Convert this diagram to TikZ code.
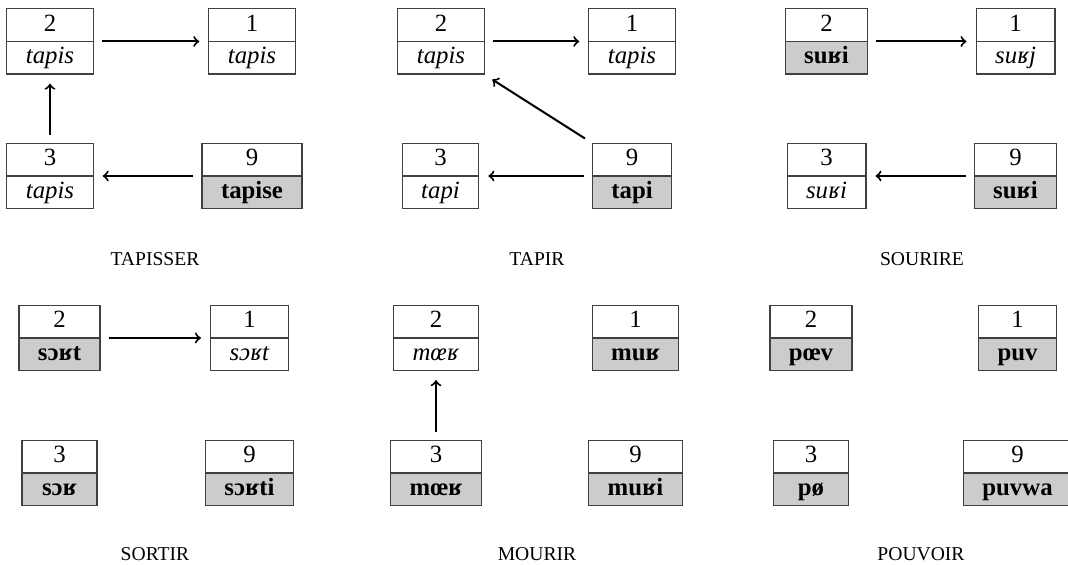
\documentclass[tikz,border=0pt]{standalone}
\usepackage{fontspec}
\setmainfont{Liberation Serif}
\usetikzlibrary{shapes.multipart}
\begin{document}
\begin{tikzpicture}
  [x=0.5pt,y=-0.5pt,
  every node/.style={font=\fontsize{12.4}{15}\selectfont},
  cell/.style={draw=black!75,line width=0.6pt,rectangle split,rectangle split parts=2,
    rectangle split part fill={white,white},inner xsep=9.5pt,inner ysep=0.35pt,
    minimum width=37.5pt},
  filled/.style={cell,rectangle split part fill={white,gray!40}},
  verb/.style={font=\fontsize{9.8}{12}\selectfont},
  arr/.style={->,line width=1pt,shorten >=4.5pt,shorten <=4pt}]
  \useasboundingbox (0,0) rectangle (1068,565);
  % TAPISSER
  \node[cell] (tps2) at (50,41.5) {\strut 2\nodepart{two}\strut\textit{tapis}};
  \node[cell] (tps1) at (252,41.5) {\strut 1\nodepart{two}\strut\textit{tapis}};
  \node[cell] (tps3) at (50,176) {\strut 3\nodepart{two}\strut\textit{tapis}};
  \node[filled] (tps9) at (252,176) {\strut 9\nodepart{two}\strut\textbf{tapise}};
  \node[verb] (tpslabel) at (155,259) {TAPISSER};
  \draw[arr] (tps2) -- (tps1);
  \draw[arr] (tps3) -- (tps2);
  \draw[arr] (tps9) -- (tps3);
  % TAPIR
  \node[cell] (tpr2) at (441,41.5) {\strut 2\nodepart{two}\strut\textit{tapis}};
  \node[cell] (tpr1) at (632,41.5) {\strut 1\nodepart{two}\strut\textit{tapis}};
  \node[cell] (tpr3) at (440.5,176) {\strut 3\nodepart{two}\strut\textit{tapi}};
  \node[filled] (tpr9) at (632,176) {\strut 9\nodepart{two}\strut\textbf{tapi}};
  \node[verb] (tprlabel) at (537,259) {TAPIR};
  \draw[arr] (tpr2) -- (tpr1);
  \draw[arr] (tpr9.north west) -- (tpr2.south east);
  \draw[arr] (tpr9) -- (tpr3);
  % SOURIRE
  \node[filled] (sri2) at (826.5,41.5) {\strut 2\nodepart{two}\strut\textbf{suʁi}};
  \node[cell] (sri1) at (1015.5,41.5) {\strut 1\nodepart{two}\strut\textit{suʁj}};
  \node[cell] (sri3) at (826.5,176) {\strut 3\nodepart{two}\strut\textit{suʁi}};
  \node[filled] (sri9) at (1015.5,176) {\strut 9\nodepart{two}\strut\textbf{suʁi}};
  \node[verb] (srilabel) at (922,259) {SOURIRE};
  \draw[arr] (sri2) -- (sri1);
  \draw[arr] (sri9) -- (sri3);
  % SORTIR
  \node[filled] (srt2) at (59.5,338) {\strut 2\nodepart{two}\strut\textbf{sɔʁt}};
  \node[cell] (srt1) at (249.5,338) {\strut 1\nodepart{two}\strut\textit{sɔʁt}};
  \node[filled] (srt3) at (59.5,473) {\strut 3\nodepart{two}\strut\textbf{sɔʁ}};
  \node[filled] (srt9) at (249.5,473) {\strut 9\nodepart{two}\strut\textbf{sɔʁti}};
  \node[verb] (srtlabel) at (155,554) {SORTIR};
  \draw[arr] (srt2) -- (srt1);
  % MOURIR
  \node[cell] (mrr2) at (436,338) {\strut 2\nodepart{two}\strut\textit{mœʁ}};
  \node[filled] (mrr1) at (635.5,338) {\strut 1\nodepart{two}\strut\textbf{muʁ}};
  \node[filled] (mrr3) at (436,473) {\strut 3\nodepart{two}\strut\textbf{mœʁ}};
  \node[filled] (mrr9) at (635.5,473) {\strut 9\nodepart{two}\strut\textbf{muʁi}};
  \node[verb] (mrrlabel) at (537,554) {MOURIR};
  \draw[arr] (mrr3) -- (mrr2);
  % POUVOIR
  \node[filled] (pvr2) at (811,338) {\strut 2\nodepart{two}\strut\textbf{pœv}};
  \node[filled] (pvr1) at (1017.5,338) {\strut 1\nodepart{two}\strut\textbf{puv}};
  \node[filled] (pvr3) at (811,473) {\strut 3\nodepart{two}\strut\textbf{pø}};
  \node[filled] (pvr9) at (1017.5,473) {\strut 9\nodepart{two}\strut\textbf{puvwa}};
  \node[verb] (pvrlabel) at (921,554) {POUVOIR};
\end{tikzpicture}
\end{document}
